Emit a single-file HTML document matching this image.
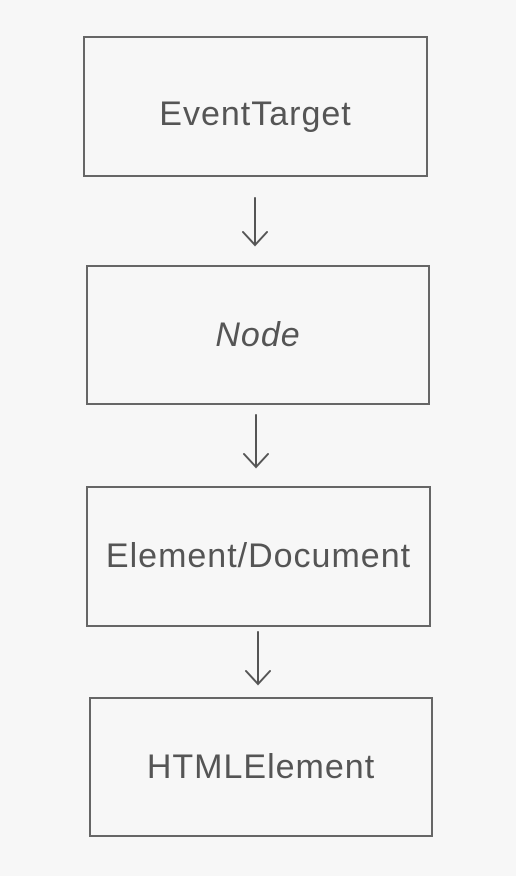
<!DOCTYPE html>
<html><head><meta charset="utf-8"><style>
html,body{margin:0;padding:0;background:#f7f7f7;}
body{width:516px;height:876px;position:relative;overflow:hidden;font-family:"Liberation Sans",sans-serif;}
.b{position:absolute;border:2px solid #666;box-sizing:border-box;display:flex;align-items:center;justify-content:center;color:#555;font-size:34px;letter-spacing:1px;}
</style></head><body>
<div class="b" style="left:83px;top:36px;width:345px;height:141px;"><span style="position:relative;top:8px">EventTarget</span></div>
<div class="b" style="left:86px;top:265px;width:344px;height:140px;font-style:italic;">Node</div>
<div class="b" style="left:86px;top:486px;width:345px;height:141px;">Element/Document</div>
<div class="b" style="left:89px;top:697px;width:344px;height:140px;">HTMLElement</div>
<svg width="516" height="876" style="position:absolute;left:0;top:0" fill="none" stroke="#555" stroke-width="2" stroke-linecap="round">
<path d="M255 198 L255 245 M243 232 L255 245 L267 232"/>
<path d="M256 415 L256 467 M244 454 L256 467 L268 454"/>
<path d="M258 632 L258 684 M246 671 L258 684 L270 671"/>
</svg>
</body></html>
